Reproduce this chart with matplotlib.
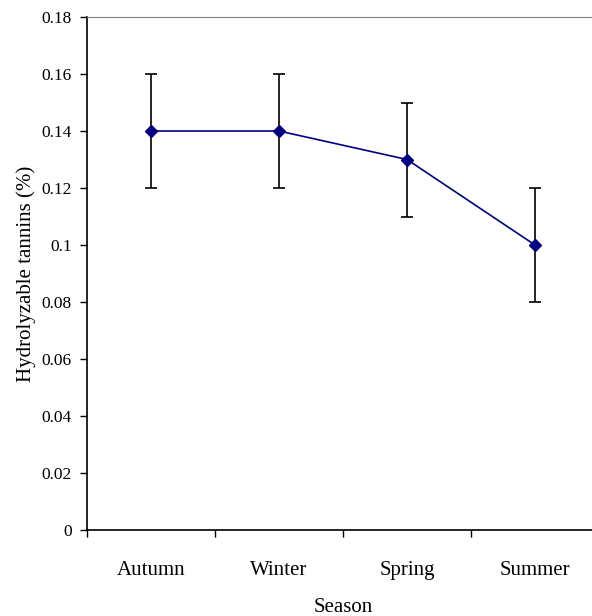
import matplotlib
matplotlib.use("Agg")
import matplotlib.pyplot as plt
from matplotlib.ticker import FormatStrFormatter, FixedLocator

plt.rcParams['font.family'] = ['Liberation Serif', 'DejaVu Serif']

seasons = ['Autumn', 'Winter', 'Spring', 'Summer']
tannins = [0.14, 0.14, 0.13, 0.10]
err = [0.02, 0.02, 0.02, 0.02]
yticks = [0, 0.02, 0.04, 0.06, 0.08, 0.1, 0.12, 0.14, 0.16, 0.18]

fig = plt.figure(figsize=(5.92, 6.16), dpi=100)
# plot area runs a bit past the right edge, like the original
ax = fig.add_axes([87/592, 1 - 530/616, 512/592, 513/616])

x = list(range(1, len(seasons) + 1))
ax.errorbar(x, tannins, yerr=err, fmt='none', ecolor='black', elinewidth=1.2,
            capsize=4, capthick=1.2, zorder=2)
ax.plot(x, tannins, color='#000080', lw=1.2, marker='D', ms=6, zorder=3)

ax.set_xlim(0.5, len(seasons) + 0.5)
ax.set_ylim(0, 0.18)
ax.set_yticks(yticks)
ax.yaxis.set_major_formatter(FormatStrFormatter('%g'))

# category ticks sit between the categories
ax.xaxis.set_major_locator(FixedLocator([i + 0.5 for i in range(len(seasons) + 1)]))
ax.xaxis.set_minor_locator(FixedLocator(x))
ax.set_xticklabels([])
ax.set_xticklabels(seasons, minor=True)
ax.tick_params(axis='x', which='minor', length=0, pad=22, labelsize=15)
ax.tick_params(axis='x', which='major', length=5, width=1, direction='out')
ax.tick_params(axis='y', length=5, width=1, direction='out', pad=6, labelsize=12.5)

ax.spines['right'].set_visible(False)
ax.spines['top'].set_color('#808080')
ax.spines['left'].set_linewidth(1.2)
ax.spines['bottom'].set_linewidth(1.2)

ax.set_xlabel('Season', fontsize=15, labelpad=13)
ax.set_ylabel('Hydrolyzable tannins (%)', fontsize=15, labelpad=4)

fig.savefig('out.png', dpi=100)
